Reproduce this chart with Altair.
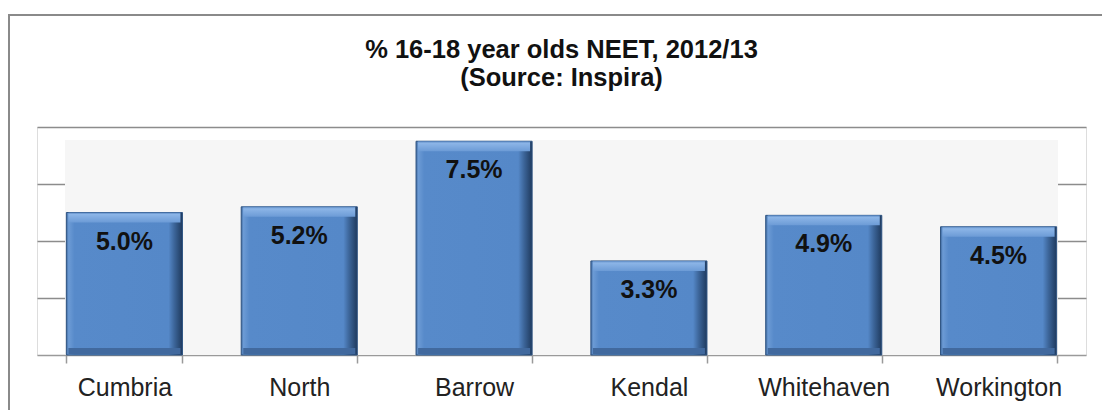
import altair as alt
import pandas as pd

# Share of 16-18 year olds not in education, employment or training (NEET), 2012/13
areas = ["Cumbria", "North", "Barrow", "Kendal", "Whitehaven", "Workington"]
neet_pct = [5.0, 5.2, 7.5, 3.3, 4.9, 4.5]

W, H = 1049, 228
FONT = "Liberation Sans"

df = pd.DataFrame({"area": areas, "pct": neet_pct})
one = pd.DataFrame({"k": [0]})

x_enc = alt.X(
    "area:N",
    sort=areas,
    scale=alt.Scale(paddingInner=0.336, paddingOuter=0.168),
    axis=alt.Axis(
        title=None,
        labelAngle=0,
        labelFont=FONT,
        labelFontSize=25,
        labelColor="#222222",
        labelPadding=12,
        tickBand="extent",
        tickSize=8,
        tickColor="#9a9a9a",
        tickWidth=1.5,
        domainColor="#9a9a9a",
        domainWidth=1.5,
        grid=False,
    ),
)
y_scale = alt.Scale(domain=[0, 8], nice=False)

# Grid lines only, no y labels
grid_layer = alt.Chart(df).mark_bar(opacity=0).encode(
    x=x_enc,
    y=alt.Y(
        "pct:Q",
        scale=y_scale,
        axis=alt.Axis(
            title=None,
            labels=False,
            ticks=False,
            domain=False,
            values=[2, 4, 6, 8],
            gridColor="#8c8c8c",
            gridWidth=1.6,
        ),
    ),
)

# Light back wall of the plot
wall = alt.Chart(one).mark_rect(color="#f6f6f6").encode(
    x=alt.value(28), x2=alt.value(W - 28), y=alt.value(13), y2=alt.value(H)
)

# Outer chart frame
frame = alt.Chart(one).mark_rect(
    fill="transparent", stroke="#8a8a8a", strokeWidth=2
).encode(
    x=alt.value(-28), x2=alt.value(W + 80), y=alt.value(-112), y2=alt.value(H + 120)
)

side_shade = alt.LinearGradient(
    gradient="linear",
    x1=0, x2=1, y1=0, y2=0,
    stops=[
        alt.GradientStop(offset=0.0, color="#3f6aa0"),
        alt.GradientStop(offset=0.02, color="#6c9bd5"),
        alt.GradientStop(offset=0.07, color="#578aca"),
        alt.GradientStop(offset=0.88, color="#5588c8"),
        alt.GradientStop(offset=0.93, color="#3c6599"),
        alt.GradientStop(offset=1.0, color="#1f3a5e"),
    ],
)
top_shade = alt.LinearGradient(
    gradient="linear",
    x1=0, x2=0, y1=0, y2=1,
    stops=[
        alt.GradientStop(offset=0.0, color="#5a88c2"),
        alt.GradientStop(offset=0.2, color="#8cb5e7"),
        alt.GradientStop(offset=1.0, color="#6c9bd6"),
    ],
)

base = alt.Chart(df).encode(x=x_enc, y=alt.Y("pct:Q", scale=y_scale))

bars = base.mark_bar(fill=side_shade, stroke="#2f5482", strokeWidth=1)
top_bevel = base.mark_tick(
    orient="horizontal", thickness=10, size=112, yOffset=5, fill=top_shade, opacity=1
)
bottom_bevel = alt.Chart(df).mark_tick(
    orient="horizontal", thickness=6, size=112, yOffset=-4, color="#41699e", opacity=1
).encode(x=x_enc, y=alt.datum(0, scale=y_scale))

labels = base.mark_text(
    font=FONT, fontSize=25, fontWeight="bold", color="#111111", baseline="middle", dy=29
).encode(text="label:N").transform_calculate(
    label="format(datum.pct, '.1f') + '%'"
)

chart = (
    alt.layer(frame, grid_layer, wall, bars, top_bevel, bottom_bevel, labels)
    .properties(
        width=W,
        height=H,
        autosize=alt.AutoSizeParams(type="none"),
        padding={"left": 37, "top": 127, "right": 16, "bottom": 55},
        title=alt.TitleParams(
            ["% 16-18 year olds NEET, 2012/13", "(Source: Inspira)"],
            font=FONT,
            fontSize=25.5,
            fontWeight="bold",
            color="#111111",
            anchor="middle",
            frame="group",
            lineHeight=28,
            offset=-77,
        ),
    )
    .configure_view(stroke=None)
    .configure(background="white")
)

chart.save("out.html", embed_options={"renderer": "svg", "actions": False})
